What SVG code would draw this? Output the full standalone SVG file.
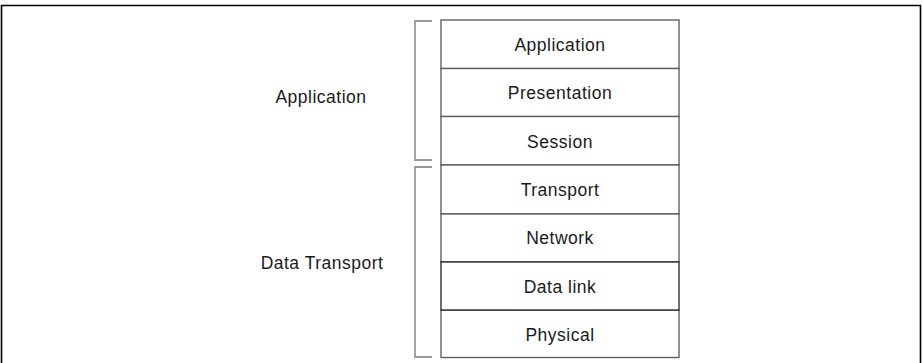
<svg xmlns="http://www.w3.org/2000/svg" width="923" height="363" viewBox="0 0 923 363">
<style>
.t{font-family:"Liberation Sans",Arial,sans-serif;font-size:17.5px;fill:#1a1a1a;text-anchor:middle;letter-spacing:0.5px}
.box{fill:#fff;stroke:#555;stroke-width:1.3}
.br{fill:none;stroke:#999;stroke-width:1.8}
</style>
<rect width="923" height="363" fill="#fff"/>
<path d="M1.5 366 V5.5 H920.5 V366" fill="none" stroke="#000" stroke-width="1.6"/>
<g id="connectors">
<path class="br" d="M432 21 H415 V160 H432"/>
<path class="br" d="M432 167 H415 V357 H432"/>
</g>
<g id="label-application"><text class="t" x="321" y="103">Application</text></g>
<g id="label-data-transport"><text class="t" x="322" y="269">Data Transport</text></g>
<g id="layer-application"><rect class="box" x="441" y="20" width="238" height="48.5"/><text class="t" x="560" y="51">Application</text></g>
<g id="layer-presentation"><rect class="box" x="441" y="68.5" width="238" height="48"/><text class="t" x="560" y="99">Presentation</text></g>
<g id="layer-session"><rect class="box" x="441" y="116.5" width="238" height="48.5"/><text class="t" x="560" y="148">Session</text></g>
<g id="layer-transport"><rect class="box" x="441" y="165" width="238" height="49"/><text class="t" x="560" y="196">Transport</text></g>
<g id="layer-network"><rect class="box" x="441" y="214" width="238" height="48"/><text class="t" x="560" y="244">Network</text></g>
<g id="layer-physical"><rect class="box" x="441" y="310" width="238" height="47.5"/><text class="t" x="560" y="341">Physical</text></g>
<g id="layer-datalink"><rect class="box" x="441" y="262" width="238" height="48" style="stroke:#222"/><text class="t" x="560" y="293">Data link</text></g>
</svg>
